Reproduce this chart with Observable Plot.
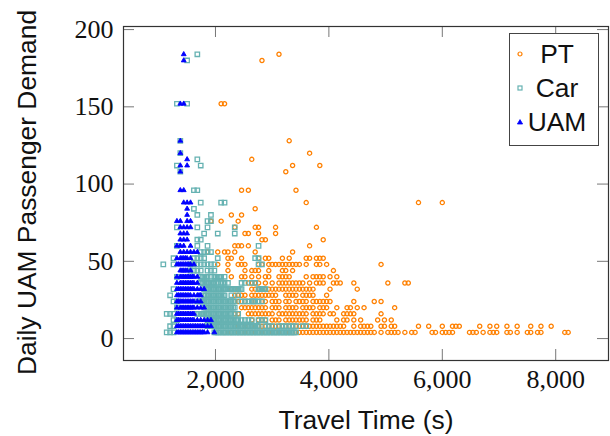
<!DOCTYPE html>
<html><head><meta charset="utf-8">
<script src="https://cdn.jsdelivr.net/npm/d3@7"></script>
<script src="https://cdn.jsdelivr.net/npm/@observablehq/plot@0.6"></script>
<style>
html,body{margin:0;padding:0;background:#fff}
#wrap{position:relative;width:610px;height:436px;overflow:hidden}
#legend{position:absolute;left:509px;top:33px;width:88px;height:111px;border:1px solid #444;background:#fff;font-family:"Liberation Sans",sans-serif;font-size:26.4px;color:#111}
#legend div{position:absolute;left:0;width:88px;height:34px;line-height:34px}
#legend span{position:absolute;left:16px;width:62px;text-align:center;top:0}
#legend svg{position:absolute;left:5px;top:12px}
</style></head><body><div id="wrap"></div>
<script>
// Each row: [daily demand, [travel times in minutes]].
const ptRows = [
[184,[52]],[180,[47]],[152,[35,36]],[128,[55]],[120,[61]],[116,[44]],[112,[56,64]],[108,[54]],[96,[41,43,57]],
[88,[60,93,100]],[84,[45]],[80,[38,41]],[76,[32,35,40]],[72,[39,45,46,51,63]],[68,[42,43,46,51]],[64,[47,48,65]],
[60,[39,40,41,43,61]],[56,[31,34,36,37,39,45,56]],[52,[37,38,41,46,48,49,53,55,60,61,63,64,65]],
[48,[34,37,40,41,42,46,47,49,50,51,52,53,54,55,56,57,58,60,63,64,66,82]],
[44,[37,42,44,45,46,49,53,54,56,68]],
[40,[38,41,42,44,46,48,49,52,53,54,55,60,62,63,64,65,67,69]],
[36,[43,44,45,46,48,50,52,53,54,55,56,57,58,59,61,63,64,65,68,69,70,74,84,89,90]],
[32,[38,40,44,45,46,47,48,49,50,51,52,53,54,55,56,57,58,59,60,61,62,67,75]],
[28,[39,40,41,42,44,45,46,47,48,49,50,51,54,55,56,57,59,60,61,62,66]],
[24,[39,40,41,42,44,45,46,47,48,50,51,52,54,55,57,58,59,60,62,63,64,65,66,67,74,80,82]],
[20,[41,42,43,44,45,46,47,48,50,51,52,54,55,56,57,59,60,61,62,64,65,66,69,72,73,75,77,86]],
[16,[39,40,43,44,45,46,47,48,49,50,52,53,54,55,56,57,58,59,60,62,63,64,65,67,68,71,72,73,74,82]],
[12,[44,46,47,48,50,51,52,54,55,56,57,58,59,60,62,63,64,69,71,72,74,76,81,83,85]],
[8,[40,42,44,45,46,47,48,49,50,51,52,53,54,55,56,57,58,59,60,61,62,63,64,65,66,67,68,69,70,71,74,76,77,78,79,82,83,85,86,93,96,100,103,104,105,111,114,116,119,122,126,129,132]],
[4,[36,38,40,41,42,43,44,45,46,47,48,49,50,51,52,53,54,55,56,57,58,59,60,61,62,63,64,65,66,67,68,69,70,71,72,73,74,75,76,77,78,79,80,82,84,85,86,87,89,91,92,97,98,100,101,102,103,108,109,110,112,114,115,116,119,120,122,125,126,128,129,136,137]]
];
const carRows = [
[184,[28]],[180,[25]],[152,[22,25]],[128,[23]],[120,[23]],[116,[28]],[112,[22,29]],[108,[23]],[96,[27,28]],
[88,[29,35,36]],[84,[27]],[80,[28,32]],[76,[31,32]],[72,[22,28,31,39]],[68,[30,34,39]],[64,[28,29]],
[60,[22,28,31,46]],[56,[29,30,31,32]],[52,[21,27,28,29,30,34,45,46]],
[48,[18,21,26,27,28,29,30,31,32,33,46,47]],
[44,[26,27,28,29,31,32,33]],
[40,[22,29,29.5,30,30.5,31,32,33,33.5,34,34.5,35,36]],
[36,[29,29.5,30,30.5,31,31.5,32,32.5,33,33.5,34,35,35.5,36,37,41,42,44,45]],
[32,[21,30,30.5,31,31.5,32,32.5,33,33.5,34,34.5,35,35.5,36,36.5,37,37.5,38,38.5,39,39.5,40,40.5,41,46,46.5,47,47.5,48]],
[28,[20,30,30.5,31,31.5,32,32.5,33,33.5,34,34.5,35,35.5,36,38,40]],
[24,[21,22,28,29,29.5,30,30.5,31,31.5,32,32.5,33,33.5,34,34.5,35,35.5,36,36.5,37,37.5,38,38.5,39,41,42,43,44,44.5,45,46,47]],
[20,[22,30,30.5,31,31.5,32,32.5,33,33.5,34,34.5,35,35.5,36,36.5,37,37.5,38,38.5,39]],
[16,[19,20,21,28,28.5,29,29.5,30,30.5,31,31.5,32,32.5,33,33.5,34,34.5,35,35.5,36,36.5,37,37.5,38,39,40]],
[12,[21,22,31,31.5,32,32.5,33,33.5,34,34.5,35,35.5,36,36.5,37,37.5,38,38.5,39,39.5,40,41,42,43,44,46,47,48]],
[8,[20,21,31,31.5,32,32.5,33,33.5,34,34.5,35,35.5,36,36.5,37,37.5,38,38.5,39,39.5,40,40.5,41,41.5,42,42.5,43,43.5,44,44.5,45,45.5,46,48,49,50,52,53,54,55,56,57,59,60]],
[4,[19,20,21,33,33.5,34,34.5,35,35.5,36,36.5,37,37.5,38,38.5,39,39.5,40,40.5,41,41.5,42,42.5,43,43.5,44,44.5,45,45.5,46,46.5,47,47.5,48,48.5,49,49.5,50,50.5,51,51.5,52,52.5,53,53.5,54,54.5,55,55.5,56,56.5,57]]
];
const uamRows = [
[184,[24]],[180,[24]],[152,[23,24]],[128,[23]],[120,[23]],[116,[25]],[112,[23,25]],[108,[23]],[96,[23,24]],
[88,[24,25,26]],[84,[25]],[80,[25]],[76,[22,23,25,26]],[72,[23,24,25,26]],[68,[23,24,25]],[64,[23,24,25]],
[60,[22,23,24,26]],[56,[23,24,25,26,27,28]],[52,[22,23,23.5,24,24.5,25,26]],
[48,[22,22.5,23,23.5,24,24.5,25,25.5,26,27]],[44,[23,23.5,24,24.5,25,26]],[40,[22,23,23.5,24,24.5,25,25.5,26,26.5,27,28]],
[36,[22,23,23.5,24,24.5,25,25.5,26,26.5,27,28]],
[32,[22,22.5,23,23.5,24,24.5,25,25.5,26,26.5,27,28,29,30]],[28,[22,22.5,23,23.5,24,24.5,25,25.5,26,27,28,28.5,29]],
[24,[22,22.5,23,23.5,24,24.5,25,25.5,26,26.5,27,28,29]],
[20,[22,23,23.5,24,24.5,25,25.5,26,26.5,27,28,29,30]],[16,[22,22.5,23,23.5,24,24.5,25,25.5,26,26.5,27]],
[12,[22,22.5,23,23.5,24,24.5,25,25.5,26,26.5,27,28,29,30,31,32]],[8,[22,22.5,23,23.5,24,24.5,25,25.5,26,26.5,27,27.5,28,28.5,29,29.5,30,31,32]],
[4,[22,22.5,23,23.5,24,24.5,25,25.5,26,26.5,27,27.5,28,28.5,29,29.5,30,31,33]]
];
const seriesNames = ["PT","Car","UAM"];
const colors = ["#ff8000","#66b2b2","#0000ff"];
const symbols = ["circle","square","triangle"];
const xTicks = [2000,4000,6000,8000];
const yTicks = [0,50,100,150,200];
const xDomain = [378,8931], yDomain = [-14.2,202];
const xTitle = "Travel Time (s)", yTitle = "Daily UAM Passenger Demand";

const flat = rows => rows.flatMap(([y,ms]) => ms.map(m => ({x:m*60,y})));
const serif = '"Liberation Serif",serif', sans = '"Liberation Sans",sans-serif';
const tickLenX = (xDomain[1]-xDomain[0])*11/485, tickLenY = (yDomain[1]-yDomain[0])*11/334;
const tickColor = "#777";

const plot = Plot.plot({
  width:610,height:436,marginLeft:123,marginRight:2,marginTop:26,marginBottom:76,
  x:{domain:xDomain},y:{domain:yDomain},
  style:{fontFamily:serif,fontSize:"26px",background:"#fff",color:"#111"},
  marks:[
    Plot.dot(flat(ptRows),{x:"x",y:"y",symbol:()=>symbols[0],r:2.1,stroke:colors[0],strokeWidth:1.3,fill:"none"}),
    Plot.dot(flat(carRows),{x:"x",y:"y",symbol:()=>symbols[1],r:2.5,stroke:colors[1],strokeWidth:1.3,fill:"none"}),
    Plot.dot(flat(uamRows),{x:"x",y:"y",symbol:()=>symbols[2],r:1.8,stroke:colors[2],strokeWidth:0.9,fill:colors[2]}),
    Plot.ruleX(xTicks,{x:d=>d,y1:yDomain[0],y2:yDomain[0]+tickLenY,stroke:tickColor}),
    Plot.ruleX(xTicks,{x:d=>d,y1:yDomain[1],y2:yDomain[1]-tickLenY,stroke:tickColor}),
    Plot.ruleY(yTicks,{y:d=>d,x1:xDomain[0],x2:xDomain[0]+tickLenX,stroke:tickColor}),
    Plot.ruleY(yTicks,{y:d=>d,x1:xDomain[1],x2:xDomain[1]-tickLenX,stroke:tickColor}),
    Plot.frame({stroke:"#333",strokeWidth:1.2}),
    Plot.axisX({ticks:xTicks,tickSize:0,tickPadding:9,tickFormat:d=>d3.format(",")(d),label:null}),
    Plot.axisY({ticks:yTicks,tickSize:0,tickPadding:10,label:null}),
    Plot.text([xTitle],{frameAnchor:"bottom",dy:60,text:d=>d,fontFamily:sans,fontSize:26.4,fill:"#111",lineAnchor:"middle"}),
    Plot.text([yTitle],{frameAnchor:"middle",dx:-338,dy:-1,rotate:-90,text:d=>d,fontFamily:sans,fontSize:26.4,fill:"#111"})
  ]
});
const wrap = document.getElementById("wrap");
wrap.appendChild(plot);
const legend = document.createElement("div");
legend.id = "legend";
const shapes = [
 '<circle cx="5" cy="5" r="2" fill="none" stroke-width="1.2"/>',
 '<rect x="3" y="3" width="4" height="4" fill="none" stroke-width="1.2"/>',
 '<path d="M5 2.6L7.6 7H2.4Z" fill="#0000ff" stroke-width="0.8"/>'
];
seriesNames.forEach((n,i)=>{
  const d = document.createElement("div");
  d.style.top = (3+i*34)+"px";
  d.innerHTML = `<svg width="10" height="10" stroke="${colors[i]}">${shapes[i]}</svg><span>${n}</span>`;
  legend.appendChild(d);
});
wrap.appendChild(legend);
</script></body></html>
